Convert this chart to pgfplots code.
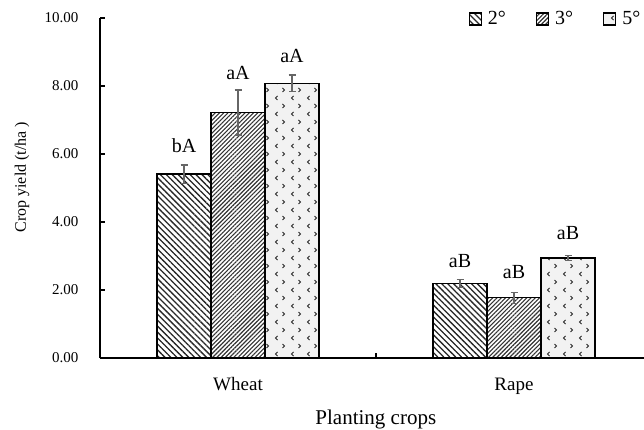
\documentclass[border=0pt]{standalone}
\usepackage{pgfplots}
\pgfplotsset{compat=1.18}
\usepackage{fontspec}
\setmainfont{Liberation Serif}
\usetikzlibrary{patterns.meta}
\tikzdeclarepattern{
  name=chev, type=uncolored,
  bottom left={(-.5bp,-.5bp)}, top right={(16.5bp,16.5bp)},
  tile size={(16bp,16bp)},
  code={
    \draw[line width=1bp] (5.5bp,14bp) -- (3.5bp,12bp) -- (5.5bp,10bp);
    \draw[line width=1bp] (10.5bp,6bp) -- (12.5bp,4bp) -- (10.5bp,2bp);
  }
}
\pgfplotstableread{
x y err gap lab
0 5.41 0.27 12.4 bA
1 2.19 0.11 12 aB
}\tdeux
\pgfplotstableread{
x y err gap lab
0 7.22 0.66 10.3 aA
1 1.77 0.16 13.4 aB
}\ttrois
\pgfplotstableread{
x y err gap lab
0 8.08 0.24 12.7 aA
1 2.94 0.07 16 aB
}\tcinq
\begin{document}
\begin{tikzpicture}
\begin{axis}[
  at={(100bp,72bp)}, anchor=south west,
  scale only axis, width=544bp, height=340bp,
  ybar=0pt, bar width=54bp,
  xmin=-0.5, xmax=1.471, ymin=0, ymax=10,
  axis x line*=bottom, axis y line*=left,
  axis line style={line width=1.2bp},
  tick align=inside,
  major tick length=5bp,
  tick style={line width=1.2bp, black},
  ytick={0,2,4,6,8,10},
  yticklabel style={xshift=-18bp, font=\fontsize{15bp}{17bp}\selectfont,
    /pgf/number format/fixed, /pgf/number format/fixed zerofill, /pgf/number format/precision=2},
  /pgf/number format/assume math mode=true,
  xtick={0.5}, xticklabels={},
  extra x ticks={0,1}, extra x tick labels={Wheat,Rape},
  extra x tick style={major tick length=0pt},
  xticklabel style={anchor=base, yshift=-32bp, font=\fontsize{19bp}{21bp}\selectfont},
  xlabel={Planting crops}, ylabel={Crop yield (t/ha )},
  ylabel style={at={(axis description cs:0,0.532)}, anchor=center, yshift=78bp,
    font=\fontsize{16bp}{18bp}\selectfont},
  xlabel style={at={(axis description cs:0.507,0)}, anchor=base, yshift=-66bp,
    font=\fontsize{21bp}{23bp}\selectfont},
  legend columns=3,
  legend style={draw=none, fill=none, inner sep=0pt, at={(1,1)}, anchor=east, xshift=-1.5bp, yshift=-1bp,
    font=\fontsize{20bp}{22bp}\selectfont,
    /tikz/every odd column/.append style={column sep=4bp},
    /tikz/every even column/.append style={column sep=28bp}},
  legend image code/.code={\draw[#1, line width=1.2bp] (0bp,-6bp) rectangle (12bp,6bp);},
  error bars/y dir=both, error bars/y explicit,
  error bars/error bar style={line width=1.4bp, black!60},
  error bars/error mark options={rotate=90, line width=1.4bp, black!60, mark size=3.5bp},
  nodes near coords, point meta=explicit symbolic,
  visualization depends on={\thisrow{err} \as \err},
  visualization depends on={\thisrow{gap} \as \gap},
  nodes near coords style={anchor=base, inner sep=0pt, yshift=\err*34bp+\gap*1bp, black,
    font=\fontsize{20bp}{22bp}\selectfont},
]
\addplot[draw=black, line width=1.3bp,
  postaction={pattern={Lines[angle=-45, distance=4.2bp, line width=1.3bp]}, pattern color=black!85}]
  table[x=x, y=y, y error=err, meta=lab] {\tdeux};
\addlegendentry{2°}
\addplot[draw=black, line width=1.3bp,
  postaction={pattern={Lines[angle=45, distance=3bp, line width=1.1bp]}, pattern color=black!80}]
  table[x=x, y=y, y error=err, meta=lab] {\ttrois};
\addlegendentry{3°}
\addplot[draw=black, line width=1.3bp, fill=black!5,
  postaction={pattern=chev, pattern color=black!85}]
  table[x=x, y=y, y error=err, meta=lab] {\tcinq};
\addlegendentry{5°}
\end{axis}
\pgfresetboundingbox
\useasboundingbox (0,0) rectangle (644bp,430bp);
\end{tikzpicture}
\end{document}
